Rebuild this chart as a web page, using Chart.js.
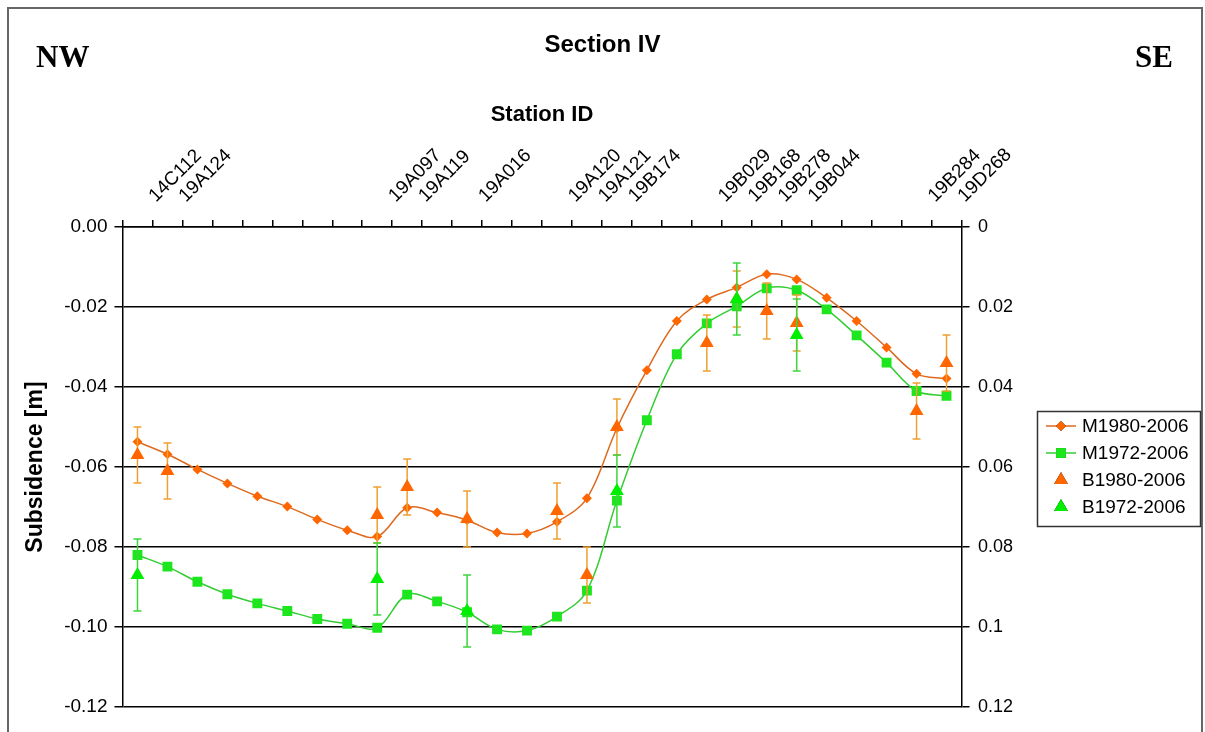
<!DOCTYPE html>
<html>
<head>
<meta charset="utf-8">
<script src="https://cdn.jsdelivr.net/npm/chart.js@4/dist/chart.umd.min.js"></script>
<style>
  html, body { margin: 0; padding: 0; background: #fff; }
  canvas { display: block; }
</style>
</head>
<body>
<canvas id="chart" width="1205" height="732"></canvas>
<script>
// station labels along the top axis (blank = interpolated point only)
const stationIds = ['14C112', '19A124', '', '', '', '', '', '', '19A097', '19A119', '', '19A016', '', '',
  '19A120', '19A121', '19B174', '', '', '19B029', '19B168', '19B278', '19B044', '', '', '', '19B284', '19D268'];

const m1980 = [-0.0537, -0.0568, -0.0606, -0.0641, -0.0673, -0.0699, -0.0731, -0.0758, -0.0774, -0.0702,
  -0.0714, -0.0733, -0.0764, -0.0766, -0.0737, -0.0678, -0.0503, -0.0358, -0.0235, -0.0181,
  -0.0151, -0.0118, -0.0131, -0.0177, -0.0235, -0.0301, -0.0367, -0.0379];

const m1972 = [-0.0820, -0.0849, -0.0887, -0.0918, -0.0941, -0.0960, -0.0980, -0.0992, -0.1002, -0.0919,
  -0.0936, -0.0963, -0.1006, -0.1009, -0.0974, -0.0909, -0.0684, -0.0483, -0.0318, -0.0241,
  -0.0198, -0.0153, -0.0158, -0.0206, -0.0271, -0.0339, -0.0410, -0.0422];

const b1980 = [-0.057, -0.061, null, null, null, null, null, null, -0.072, -0.065, null, -0.073, null, null,
  -0.071, -0.087, -0.050, null, null, -0.029, -0.018, -0.021, -0.024, null, null, null, -0.046, -0.034];
const b1980Err = [0.007, 0.007, null, null, null, null, null, null, 0.007, 0.007, null, 0.007, null, null,
  0.007, 0.007, 0.007, null, null, 0.007, 0.007, 0.007, 0.007, null, null, null, 0.007, 0.007];

const b1972 = [-0.087, null, null, null, null, null, null, null, -0.088, null, null, -0.096, null, null,
  null, null, -0.066, null, null, null, -0.018, null, -0.027, null, null, null, null, null];
const b1972Err = [0.009, null, null, null, null, null, null, null, 0.009, null, null, 0.009, null, null,
  null, null, 0.009, null, null, null, 0.009, null, 0.009, null, null, null, null, null];

Chart.defaults.font.family = '"Liberation Sans", Arial, sans-serif';
Chart.defaults.color = '#000';

const sans = '"Liberation Sans", Arial, sans-serif';
const serif = '"Liberation Serif", "Times New Roman", serif';

const extras = {
  id: 'extras',
  beforeDatasetDraw(chart, args) {
    const ds = chart.data.datasets[args.index];
    if (!ds.errorBars) return;
    const y = chart.scales.y;
    const ctx = chart.ctx;
    ctx.save();
    ctx.strokeStyle = ds.errorColor;
    ctx.lineWidth = 1.5;
    args.meta.data.forEach((pt, i) => {
      const v = ds.data[i];
      const e = ds.errorBars[i];
      if (v == null || e == null) return;
      const top = y.getPixelForValue(v + e);
      const bot = y.getPixelForValue(v - e);
      ctx.beginPath();
      ctx.moveTo(pt.x, top);
      ctx.lineTo(pt.x, bot);
      ctx.moveTo(pt.x - 4, top);
      ctx.lineTo(pt.x + 4, top);
      ctx.moveTo(pt.x - 4, bot);
      ctx.lineTo(pt.x + 4, bot);
      ctx.stroke();
    });
    ctx.restore();
  },
  afterDraw(chart) {
    const ctx = chart.ctx;
    ctx.save();
    // outer frame
    ctx.strokeStyle = '#666';
    ctx.lineWidth = 2;
    ctx.strokeRect(8, 8, 1194, 740);

    // NW / SE
    ctx.fillStyle = '#000';
    ctx.font = 'bold 31px ' + serif;
    ctx.textBaseline = 'alphabetic';
    ctx.textAlign = 'left';
    ctx.fillText('NW', 36, 67);
    ctx.textAlign = 'right';
    ctx.fillText('SE', 1173, 67);

    // legend
    ctx.strokeStyle = '#333';
    ctx.lineWidth = 1.5;
    ctx.strokeRect(1037.5, 411.5, 163, 115);
    ctx.font = '19px ' + sans;
    ctx.textAlign = 'left';
    ctx.textBaseline = 'middle';
    chart.data.datasets.forEach((ds, i) => {
      const yy = 426 + i * 27;
      if (ds.showLine !== false) {
        ctx.strokeStyle = ds.borderColor;
        ctx.lineWidth = 1.5;
        ctx.beginPath();
        ctx.moveTo(1046, yy);
        ctx.lineTo(1076, yy);
        ctx.stroke();
      }
      Chart.helpers.drawPoint(ctx, {
        pointStyle: ds.pointStyle,
        radius: ds.pointRadius,
        rotation: 0,
        borderWidth: 0
      }, 1061, yy);
      ctx.fillStyle = ds.pointBackgroundColor;
      ctx.fill();
      ctx.fillStyle = '#000';
      ctx.fillText(ds.label, 1082, yy + 1);
    });
    ctx.restore();
  }
};

new Chart(document.getElementById('chart'), {
  type: 'line',
  data: {
    labels: stationIds,
    datasets: [
      {
        label: 'M1980-2006',
        data: m1980,
        borderColor: '#DD6A1E',
        borderWidth: 1.5,
        pointStyle: 'rectRot',
        pointRadius: 5,
        pointBackgroundColor: '#FF6600',
        pointBorderWidth: 0,
        tension: 0.35,
        order: 4
      },
      {
        label: 'M1972-2006',
        data: m1972,
        borderColor: '#33CC33',
        borderWidth: 1.5,
        pointStyle: 'rect',
        pointRadius: 7,
        pointBackgroundColor: '#1EE61E',
        pointBorderWidth: 0,
        tension: 0.35,
        order: 3
      },
      {
        label: 'B1980-2006',
        data: b1980,
        errorBars: b1980Err,
        errorColor: '#F0A030',
        showLine: false,
        pointStyle: 'triangle',
        pointRadius: 8,
        pointBackgroundColor: '#FF6600',
        pointBorderWidth: 0,
        order: 2
      },
      {
        label: 'B1972-2006',
        data: b1972,
        errorBars: b1972Err,
        errorColor: '#3CD63C',
        showLine: false,
        pointStyle: 'triangle',
        pointRadius: 8,
        pointBackgroundColor: '#00EE00',
        pointBorderWidth: 0,
        order: 1
      }
    ]
  },
  options: {
    responsive: false,
    animation: false,
    layout: { padding: { left: 0, right: 0, top: 0, bottom: 25 } },
    plugins: {
      legend: { display: false },
      tooltip: { enabled: false },
      title: {
        display: true,
        text: 'Section IV',
        color: '#000',
        font: { size: 24, weight: 'bold' },
        padding: { top: 31, bottom: 0 }
      }
    },
    scales: {
      x: {
        position: 'top',
        offset: true,
        grid: { offset: true, drawOnChartArea: false, color: '#000', lineWidth: 1.5, tickLength: 7 },
        border: { color: '#000', width: 1.5 },
        ticks: {
          autoSkip: false,
          minRotation: 45,
          maxRotation: 45,
          labelOffset: 31,
          padding: 13,
          color: '#000',
          font: { size: 19 }
        },
        title: {
          display: true,
          text: 'Station ID',
          color: '#000',
          font: { size: 22, weight: 'bold' },
          padding: { top: 41.5, bottom: 0 }
        },
        afterFit(s) { s.height = 167.2; }
      },
      y: {
        position: 'left',
        min: -0.12,
        max: 0,
        grid: { color: '#000', lineWidth: 1.5, tickLength: 8 },
        border: { color: '#000', width: 1.5 },
        ticks: {
          stepSize: 0.02,
          padding: 7,
          color: '#000',
          font: { size: 19 },
          callback: v => v.toFixed(2)
        },
        title: {
          display: true,
          text: 'Subsidence [m]',
          color: '#000',
          font: { size: 23, weight: 'bold' },
          padding: { top: 21.5, bottom: 0 }
        },
        afterFit(s) { s.width = 122.5; }
      },
      y2: {
        position: 'right',
        min: 0,
        max: 0.12,
        reverse: true,
        grid: { drawOnChartArea: false, color: '#000', lineWidth: 1.5, tickLength: 8 },
        border: { color: '#000', width: 1.5 },
        ticks: {
          stepSize: 0.02,
          padding: 8.5,
          color: '#000',
          font: { size: 18 },
          callback: v => String(Number(v.toFixed(2)))
        },
        afterFit(s) { s.width = 243.5; }
      }
    }
  },
  plugins: [extras]
});
</script>
</body>
</html>
